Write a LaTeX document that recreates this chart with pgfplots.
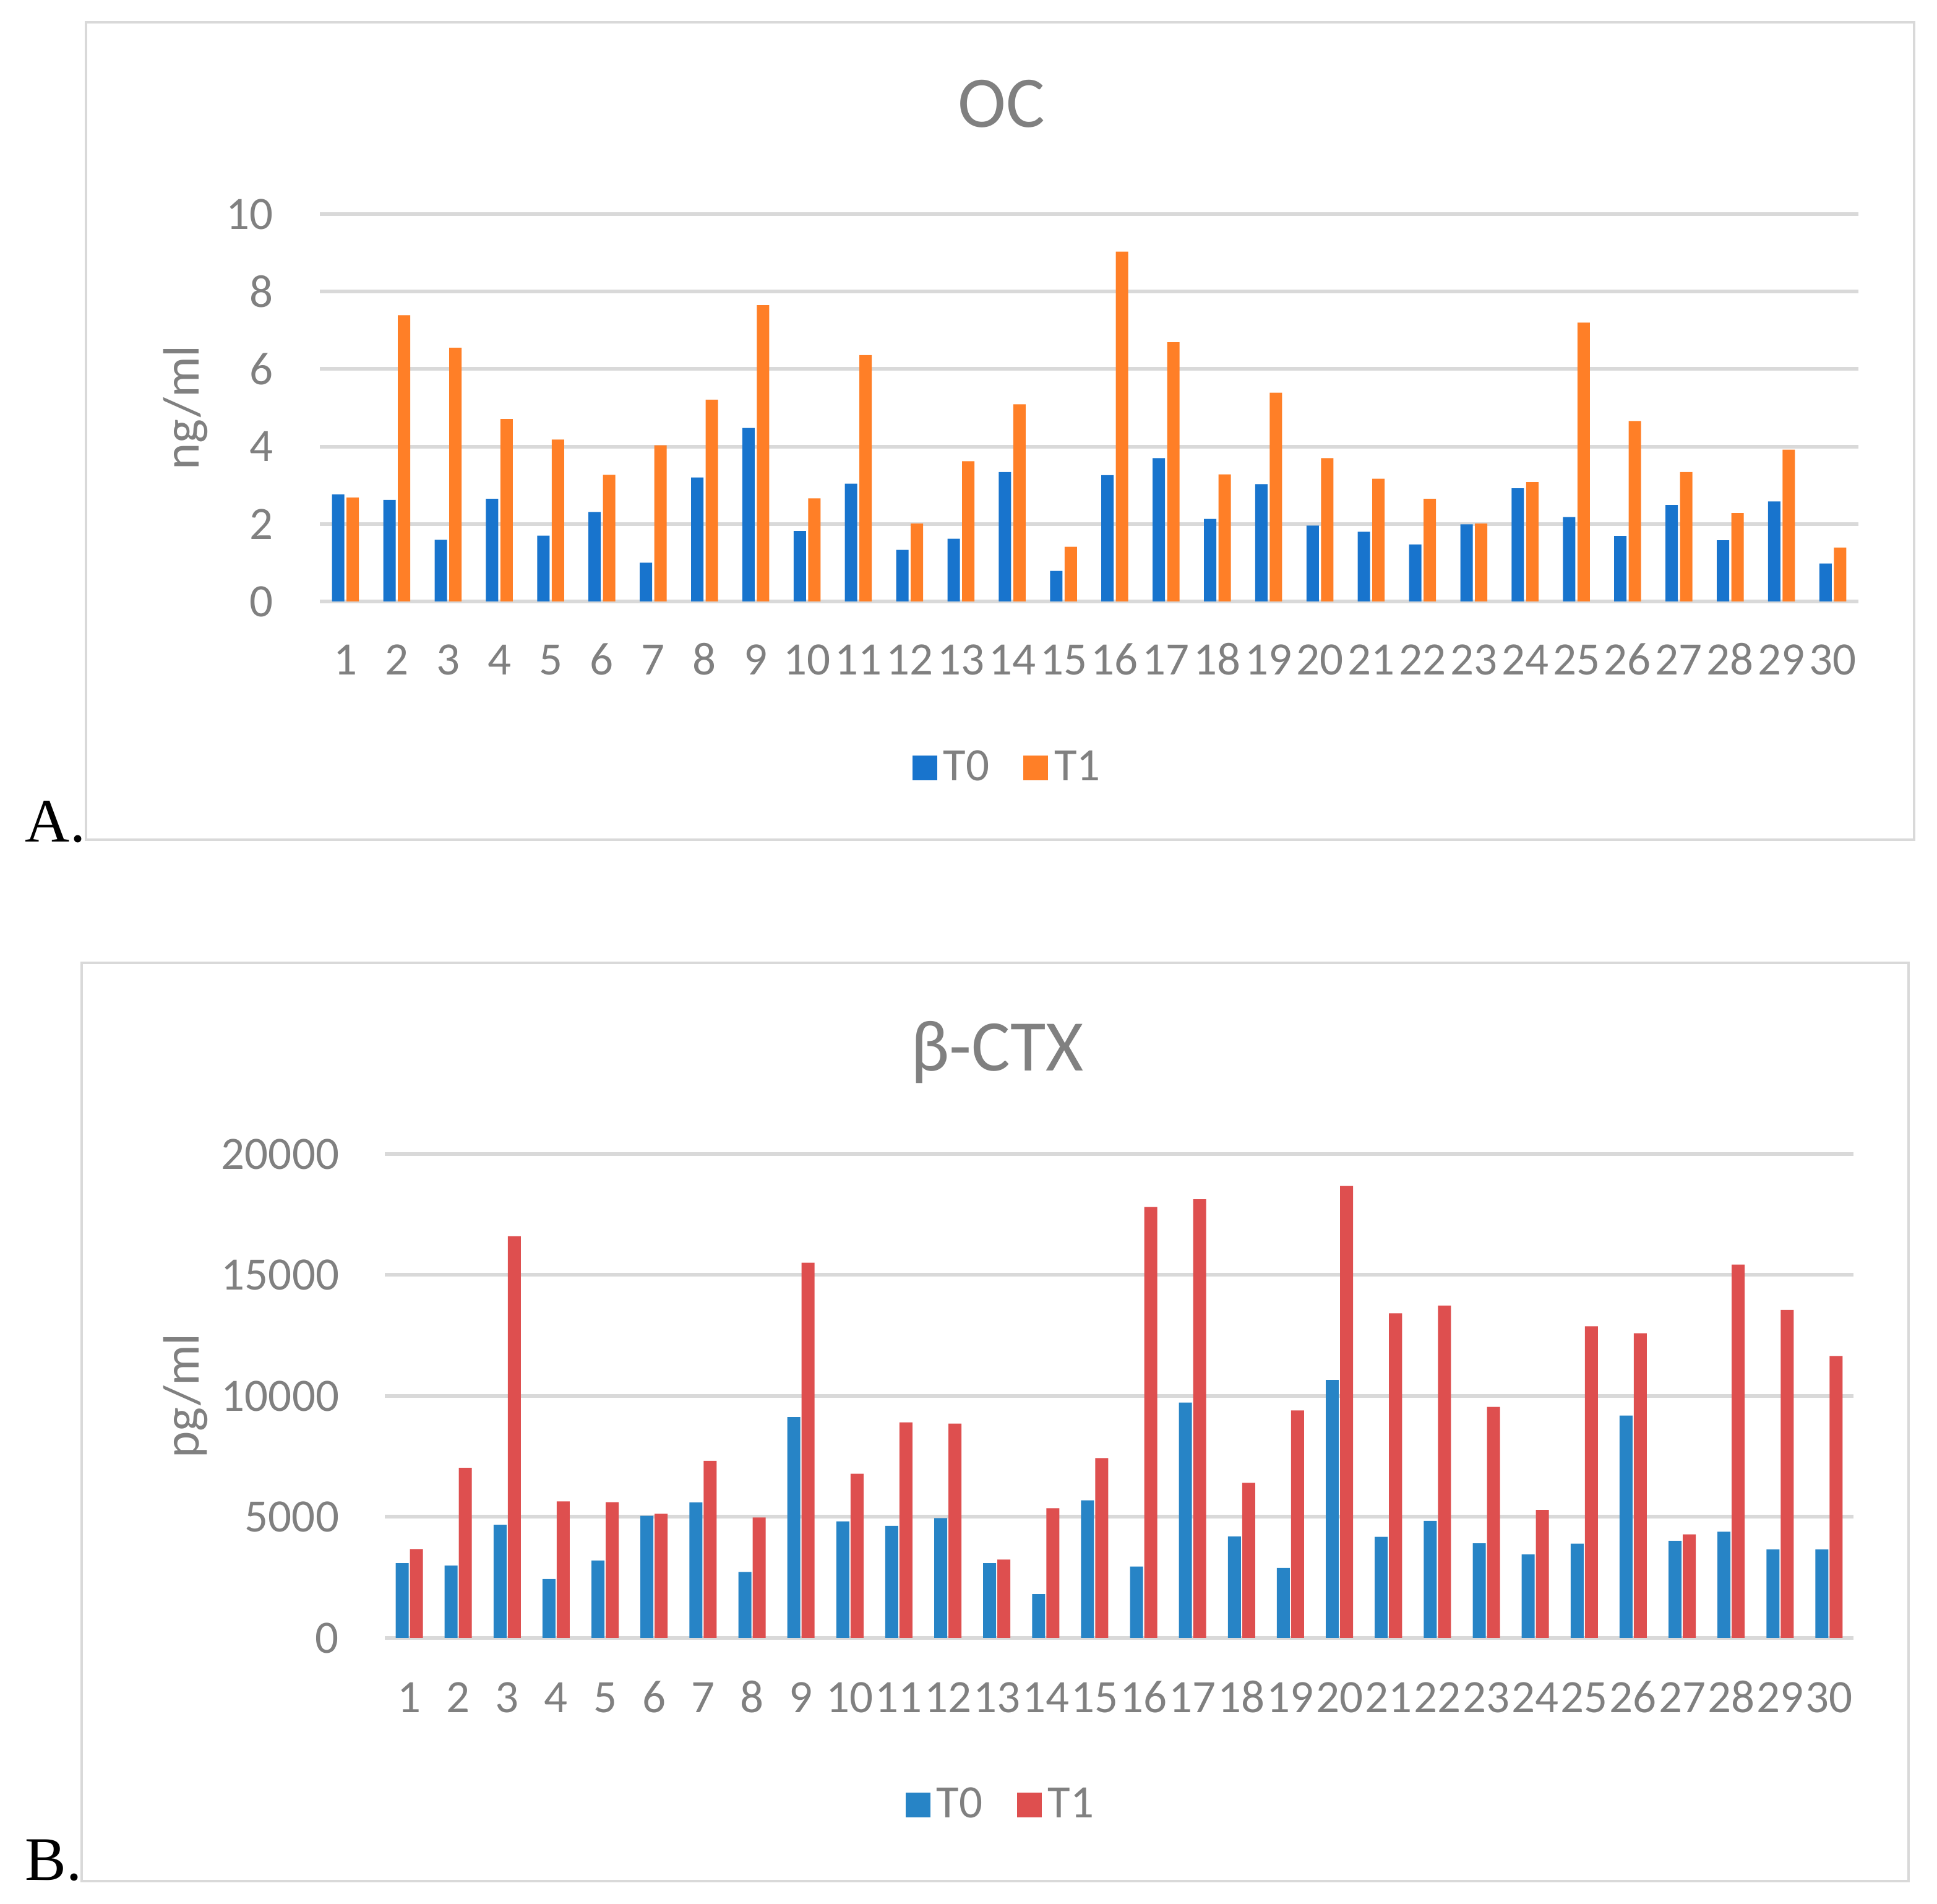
\documentclass[border=0pt]{standalone}
\usepackage{pgfplots}
\pgfplotsset{compat=1.18}
\usepackage{pgfplotstable}
\usepackage{fontspec}
\setmainfont{Carlito}
\newfontfamily\timesfont{Liberation Serif}

\definecolor{txtgray}{HTML}{808080}
\definecolor{gridgray}{HTML}{D9D9D9}
\definecolor{ocblue}{HTML}{1874CD}
\definecolor{ocorange}{HTML}{FF7F27}
\definecolor{ctxblue}{HTML}{2784C6}
\definecolor{ctxred}{HTML}{DE4F4F}

% OC, ng/ml
\pgfplotstableread{
id t0 t1
1 2.76 2.68
2 2.62 7.39
3 1.59 6.55
4 2.65 4.71
5 1.70 4.18
6 2.31 3.27
7 1.00 4.03
8 3.20 5.21
9 4.48 7.65
10 1.82 2.66
11 3.04 6.36
12 1.33 2.01
13 1.62 3.62
14 3.34 5.09
15 0.79 1.41
16 3.26 9.03
17 3.70 6.69
18 2.13 3.28
19 3.03 5.39
20 1.96 3.70
21 1.80 3.17
22 1.47 2.65
23 1.99 2.01
24 2.92 3.08
25 2.18 7.20
26 1.69 4.66
27 2.49 3.34
28 1.58 2.28
29 2.58 3.92
30 0.98 1.39
}\octable

% beta-CTX, pg/ml
\pgfplotstableread{
id t0 t1
1 3090 3670
2 2990 7030
3 4680 16600
4 2430 5640
5 3200 5610
6 5050 5130
7 5600 7320
8 2730 4980
9 9130 15510
10 4820 6790
11 4630 8910
12 4950 8860
13 3090 3240
14 1810 5360
15 5690 7430
16 2950 17810
17 9730 18130
18 4190 6410
19 2890 9400
20 10660 18680
21 4180 13420
22 4840 13740
23 3910 9550
24 3450 5290
25 3900 12880
26 9190 12590
27 4010 4280
28 4390 15430
29 3660 13560
30 3660 11650
}\ctxtable

\pgfplotsset{
  excelbars/.style={
    scale only axis,
    ybar,
    ymin=0, xmin=0.5, xmax=30.5,
    xtick={1,...,30},
    axis line style={draw=none},
    tick style={draw=none},
    ymajorgrids,
    major grid style={line width=1.2pt, gridgray},
    ticklabel style={font=\fontsize{15}{18}\selectfont, text=txtgray, inner sep=0pt},
    /pgf/number format/assume math mode=true,
    /pgf/number format/1000 sep={},
    scaled y ticks=false,
    yticklabel style={anchor=east},
    xticklabel style={anchor=base},
    ylabel style={font=\fontsize{16.5}{20}\selectfont, text=txtgray, anchor=center},
    title style={font=\fontsize{23.5}{28}\selectfont, text=txtgray, anchor=base, inner sep=0pt, yshift=0pt},
    legend style={draw=none, fill=none, font=\fontsize{15}{18}\selectfont,
      text=txtgray, anchor=center, inner sep=0pt,
      /tikz/every even column/.append style={column sep=9pt}},
    legend columns=2,
    every axis plot post/.append style={
      legend image code/.code={\fill[##1] (0pt,-4pt) rectangle (8pt,4pt);}},
  }
}

\begin{document}
\begin{tikzpicture}
\useasboundingbox (0,0) rectangle (626.2pt,615.4pt);

% panel frames
\draw[gridgray, line width=0.9pt] (27.8pt,344pt) rectangle (618.8pt,608.2pt);
\draw[gridgray, line width=0.9pt] (26.4pt,7.4pt) rectangle (617pt,304.2pt);

\node[anchor=base west, inner sep=0pt, font=\timesfont\fontsize{20}{24}\selectfont] at (8pt,343.2pt) {A.};
\node[anchor=base west, inner sep=0pt, font=\timesfont\fontsize{20}{24}\selectfont] at (8pt,7.6pt) {B.};

\begin{axis}[
    excelbars,
    at={(103.4pt,421pt)}, anchor=south west,
    width=497.4pt, height=125.2pt,
    ymax=10, ytick distance=2,
    bar width=4pt, ybar=0.7pt,
    yticklabel style={xshift=-14.8pt},
    xticklabel style={yshift=-19.4pt},
    ylabel={ng/ml},
    ylabel style={at={(axis description cs:-0.0873,0.5)}},
    title={OC},
    title style={at={(axis description cs:0.4431,1.1758)}},
    legend style={at={(axis description cs:0.4483,-0.43)}},
]
\addplot[fill=ocblue, draw=none] table[x=id, y=t0] {\octable};
\addplot[fill=ocorange, draw=none] table[x=id, y=t1] {\octable};
\legend{T0, T1}
\end{axis}

\begin{axis}[
    excelbars,
    at={(124.4pt,86pt)}, anchor=south west,
    width=474.8pt, height=156.4pt,
    ymax=20000, ytick={0,5000,...,20000},
    bar width=4.2pt, ybar=0.4pt,
    yticklabel style={xshift=-14.6pt},
    xticklabel style={yshift=-19.8pt},
    ylabel={pg/ml},
    ylabel style={at={(axis description cs:-0.1356,0.5)}},
    title={β-CTX},
    title style={at={(axis description cs:0.417,1.1342)}},
    legend style={at={(axis description cs:0.4208,-0.345)}},
]
\addplot[fill=ctxblue, draw=none] table[x=id, y=t0] {\ctxtable};
\addplot[fill=ctxred, draw=none] table[x=id, y=t1] {\ctxtable};
\legend{T0, T1}
\end{axis}
\end{tikzpicture}
\end{document}
